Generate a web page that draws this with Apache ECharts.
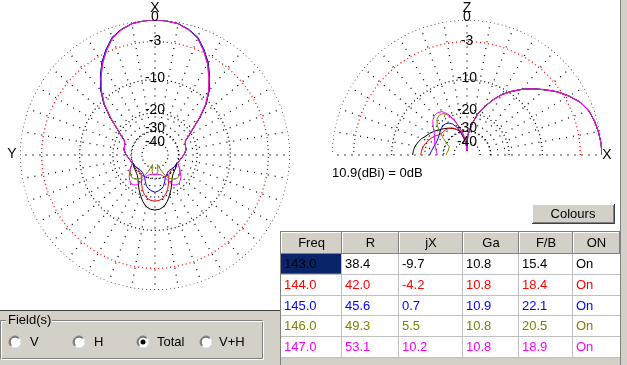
<!DOCTYPE html>
<html><head><meta charset="utf-8">
<script src="https://cdn.jsdelivr.net/npm/echarts@6/dist/echarts.min.js"></script>
<style>html,body{margin:0;padding:0;background:#fff;}#c{width:627px;height:365px;}</style>
</head><body><div id="c"></div>
<script>
// ---------------- DATA ----------------
const seriesNames = ['143.0', '144.0', '145.0', '146.0', '147.0'];
const seriesColors = ['#000000', '#ff0000', '#0000ff', '#808000', '#ff00ff'];

// Horizontal plane (left plot): angle in degrees from X (top), dB relative to 10.9 dBi
const anglesH = [0,5,10,15,20,25,30,35,40,45,50,55,60,65,70,75,80,85,90,95,100,105,110,
  120,130,135,140,145,150,155,160,165,170,175,180,
  185,190,195,200,205,210,215,220,225,230,240,
  250,255,260,265,270,275,280,285,290,295,300,305,310,315,320,325,330,335,340,345,350,355,360];
const h143 = [0,-0.05,-0.2,-0.65,-1.3,-2.6,-4.1,-6.0,-8.1,-10.7,-14.3,-18.2,-21.2,-23.8,-24.5,-24.9,-25.0,-25.7,-26.6,-27.6,-28.4,-29.2,-30.0,
  -29.5,-28.8,-28.3,-27.5,-26.0,-24.0,-21.8,-19.8,-17.8,-16.3,-15.6,-15.4,
  -15.6,-16.3,-17.8,-19.8,-21.8,-24.0,-26.0,-27.5,-28.3,-28.8,-29.5,
  -30.0,-29.2,-28.4,-27.6,-26.6,-25.7,-25.0,-24.9,-24.5,-23.8,-21.2,-18.2,-14.3,-10.7,-8.1,-6.0,-4.1,-2.6,-1.3,-0.65,-0.2,-0.05,0];
const h144 = [0,-0.05,-0.22,-0.68,-1.35,-2.7,-4.2,-6.1,-8.2,-10.8,-14.4,-18.3,-21.3,-23.9,-24.6,-24.9,-25.0,-25.7,-26.6,-27.6,-28.4,-29.2,-30.0,
  -30.5,-31.0,-31.0,-30.5,-29.5,-27.5,-24.8,-22.3,-20.5,-19.2,-18.6,-18.4,
  -18.6,-19.2,-20.5,-22.3,-24.8,-27.5,-29.5,-30.5,-31.0,-31.0,-30.5,
  -30.0,-29.2,-28.4,-27.6,-26.6,-25.7,-25.0,-24.9,-24.6,-23.9,-21.3,-18.3,-14.4,-10.8,-8.2,-6.1,-4.2,-2.7,-1.35,-0.68,-0.22,-0.05,0];
const h145 = [0,-0.05,-0.2,-0.65,-1.3,-2.6,-4.1,-6.0,-8.1,-10.7,-14.3,-18.2,-21.2,-23.8,-24.5,-24.9,-25.0,-25.7,-26.6,-27.6,-28.4,-29.2,-30.0,
  -30.5,-31.5,-32.0,-32.0,-31.5,-30.5,-29.3,-26.8,-24.4,-23.3,-22.6,-22.1,
  -22.6,-23.3,-24.4,-26.8,-29.3,-30.5,-31.5,-32.0,-32.0,-31.5,-30.5,
  -30.0,-29.2,-28.4,-27.6,-26.6,-25.7,-25.0,-24.9,-24.5,-23.8,-21.2,-18.2,-14.3,-10.7,-8.1,-6.0,-4.1,-2.6,-1.3,-0.65,-0.2,-0.05,0];
const h146 = [0,-0.05,-0.22,-0.7,-1.4,-2.75,-4.3,-6.2,-8.3,-10.9,-14.5,-18.3,-21.3,-23.9,-24.6,-24.9,-25.0,-25.7,-26.6,-27.6,-28.4,-29.0,-29.5,
  -26.6,-24.8,-24.6,-25.1,-26.2,-27.8,-32.0,-38.0,-45.0,-36.0,-33.0,-32.0,
  -33.0,-36.0,-45.0,-38.0,-32.0,-27.8,-26.2,-25.1,-24.6,-24.8,-26.6,
  -29.5,-29.0,-28.4,-27.6,-26.6,-25.7,-25.0,-24.9,-24.6,-23.9,-21.3,-18.3,-14.5,-10.9,-8.3,-6.2,-4.3,-2.75,-1.4,-0.7,-0.22,-0.05,0];
const h147 = [0,-0.05,-0.22,-0.7,-1.4,-2.75,-4.3,-6.2,-8.3,-10.9,-14.5,-18.3,-21.3,-23.9,-24.6,-24.9,-25.0,-25.7,-26.6,-27.6,-28.4,-29.0,-29.5,
  -26.5,-23.8,-22.8,-22.1,-22.4,-23.5,-28.5,-31.5,-32.5,-33.0,-33.3,-33.4,
  -33.3,-33.0,-32.5,-31.5,-28.5,-23.5,-22.4,-22.1,-22.8,-23.8,-26.5,
  -29.5,-29.0,-28.4,-27.6,-26.6,-25.7,-25.0,-24.9,-24.6,-23.9,-21.3,-18.3,-14.5,-10.9,-8.3,-6.2,-4.3,-2.75,-1.4,-0.7,-0.22,-0.05,0];

// Vertical plane (right plot): elevation angle in degrees from X (right) towards Z (top)
const anglesV = [0,5,10,15,20,25,30,35,40,45,50,55,60,65,70,75,80,85,88,90,
  92,95,100,105,110,115,120,125,130,135,140,145,150,155,160,165,170,175,180];
const v143 = [0,-0.05,-0.2,-0.4,-0.7,-1.35,-2.35,-3.5,-4.9,-6.3,-7.8,-9.5,-11.3,-13.8,-16.6,-19.6,-24.3,-29.8,-33.5,-60,
  -48,-44,-36,-30,-28,-26.5,-25.4,-24.3,-23.4,-22.5,-21.5,-20.5,-19.6,-18.8,-17.7,-16.9,-16.2,-15.8,-15.6];
const v144 = [0,-0.05,-0.2,-0.4,-0.7,-1.35,-2.35,-3.5,-4.9,-6.3,-7.8,-9.5,-11.3,-13.8,-16.6,-19.6,-24.3,-29.8,-33.5,-60,
  -48,-44,-36,-31,-28,-26.2,-25.2,-24.5,-24.2,-24.1,-23.9,-23.2,-22.0,-21.0,-20.2,-19.5,-18.9,-18.6,-18.4];
const v145 = [0,-0.05,-0.2,-0.4,-0.68,-1.3,-2.3,-3.45,-4.85,-6.25,-7.75,-9.45,-11.25,-13.7,-16.5,-19.5,-24.2,-29.8,-33.5,-60,
  -48,-42,-35,-30,-26,-23.5,-22.3,-21.8,-21.8,-22.3,-23.0,-23.6,-24.0,-24.1,-24.0,-23.6,-23.2,-22.6,-22.1];
const v146 = [0,-0.05,-0.2,-0.4,-0.7,-1.35,-2.35,-3.5,-4.9,-6.3,-7.8,-9.5,-11.3,-13.8,-16.6,-19.6,-24.3,-29.8,-33.5,-60,
  -45,-40,-33,-27,-22.5,-19.3,-17.8,-17.6,-18.2,-20.0,-23.0,-26.5,-30,-33,-34,-33.5,-33,-32.5,-32];
const v147 = [0,-0.05,-0.2,-0.4,-0.7,-1.35,-2.35,-3.5,-4.9,-6.3,-7.8,-9.5,-11.3,-13.8,-16.6,-19.6,-24.3,-29.8,-33.5,-60,
  -45,-38,-32,-26.5,-22,-18.8,-17.0,-16.5,-16.7,-17.6,-19.2,-20.8,-22.0,-22.8,-23.5,-24.2,-25,-25.5,-26];

// Scale rings (dB) and their labels
const ringDb = [0, -3, -10, -20, -30, -40];
const ringLabels = ['0', '-3', '-10', '-20', '-30', '-40'];
const gainText = '10.9(dBi) = 0dB';

// Table
const tableHeaders = ['Freq', 'R', 'jX', 'Ga', 'F/B', 'ON'];
const colFreq = ['143.0', '144.0', '145.0', '146.0', '147.0'];
const colR = ['38.4', '42.0', '45.6', '49.3', '53.1'];
const colJX = ['-9.7', '-4.2', '0.7', '5.5', '10.2'];
const colGa = ['10.8', '10.8', '10.9', '10.8', '10.8'];
const colFB = ['15.4', '18.4', '22.1', '20.5', '18.9'];
const colOn = ['On', 'On', 'On', 'On', 'On'];
const fieldOptions = ['V', 'H', 'Total', 'V+H'];
const fieldChecked = 2;

// ---------------- CHART ----------------
// ARRL log scale: each 2 dB = factor 0.89 in radius
function arrl(dB) { return Math.pow(0.89, -dB / 2); }

const chart = echarts.init(document.getElementById('c'), null, {renderer: 'canvas'});
const FONT = '"Liberation Sans", Arial, sans-serif';
const series = [];

function ringSeries(pi, dB, a0, a1, color) {
  const d = [];
  for (let a = a0; a <= a1; a += 1) d.push([arrl(dB), a]);
  return {type: 'line', coordinateSystem: 'polar', polarIndex: pi, data: d, symbol: 'none', silent: true,
    animation: false, z: 1, lineStyle: {color: color, width: 1.3, type: [1, 3]}};
}
function spokeSeries(pi, angs) {
  const d = [];
  angs.forEach(a => { d.push([arrl(-30), a]); d.push([1, a]); d.push('-'); });
  return {type: 'line', coordinateSystem: 'polar', polarIndex: pi, data: d, symbol: 'none', silent: true,
    animation: false, z: 1, connectNulls: false, lineStyle: {color: '#000', width: 1.3, type: [1, 6]}};
}
const spokesL = [], spokesR = [];
for (let a = 0; a < 360; a += 10) spokesL.push(a);
for (let a = 0; a <= 180; a += 10) spokesR.push(a);
series.push(spokeSeries(0, spokesL));
series.push(spokeSeries(1, spokesR));
ringDb.forEach(db => {
  const col = db === -3 ? '#ff0000' : '#000000';
  series.push(ringSeries(0, db, 0, 360, col));
  series.push(ringSeries(1, db, 0, 180, col));
});

const hData = [h143, h144, h145, h146, h147];
const vData = [v143, v144, v145, v146, v147];
hData.forEach((arr, i) => {
  series.push({type: 'line', name: seriesNames[i], coordinateSystem: 'polar', polarIndex: 0,
    data: arr.map((v, k) => [arrl(v), anglesH[k]]), symbol: 'none', animation: false, z: 3 + i,
    lineStyle: {color: seriesColors[i], width: 1}});
});
vData.forEach((arr, i) => {
  series.push({type: 'line', name: seriesNames[i], coordinateSystem: 'polar', polarIndex: 1,
    data: arr.map((v, k) => [arrl(v), anglesV[k]]), symbol: 'none', animation: false, z: 3 + i,
    lineStyle: {color: seriesColors[i], width: 1}});
});

// ---------------- GRAPHIC (labels, table, controls) ----------------
const g = [];
function rect(x, y, w, h, fill, z) { g.push({type: 'rect', z: z || 10, silent: true, shape: {x: x, y: y, width: w, height: h}, style: {fill: fill}}); }
function hline(x1, x2, y, c, z) { g.push({type: 'line', z: z || 11, silent: true, shape: {x1: x1, y1: y + 0.5, x2: x2, y2: y + 0.5}, style: {stroke: c, lineWidth: 1}}); }
function vline(x, y1, y2, c, z) { g.push({type: 'line', z: z || 11, silent: true, shape: {x1: x + 0.5, y1: y1, x2: x + 0.5, y2: y2}, style: {stroke: c, lineWidth: 1}}); }
function text(t, x, y, opts) {
  opts = opts || {};
  g.push({type: 'text', z: opts.z || 12, silent: true, x: x, y: y,
    style: {text: t, font: (opts.size || 13) + 'px ' + FONT, fill: opts.color || '#000',
      textAlign: opts.align || 'left', align: opts.align || 'left', textVerticalAlign: 'middle', verticalAlign: 'middle'}});
}

// plot axis labels
const ringLabelY = [17, 41, 78, 110, 128, 142];
ringLabels.forEach((t, i) => {
  text(t, 155, ringLabelY[i], {size: 14, align: 'center'});
  text(t, 467, ringLabelY[i], {size: 14, align: 'center'});
});
text('X', 155, 8, {size: 14, align: 'center'});
text('Y', 12, 154, {size: 14, align: 'center'});
text('Z', 467, 8, {size: 14, align: 'center'});
text('X', 607, 155, {size: 14, align: 'center'});
text(gainText, 332, 173, {size: 13});

// right gray strip
rect(621, 0, 6, 365, '#d4d0c8');
vline(620, 0, 365, '#808080');

// Colours button
rect(532, 204, 83, 20, '#d4d0c8');
hline(532, 615, 204, '#ffffff'); vline(532, 204, 224, '#ffffff');
hline(532, 615, 223, '#404040'); vline(614, 204, 224, '#404040');
hline(533, 614, 222, '#808080'); vline(613, 205, 223, '#808080');
text('Colours', 573, 214, {size: 13, align: 'center'});

// bottom-left panel with Field(s) group
rect(0, 311, 280, 54, '#d4d0c8');
hline(0, 280, 310, '#404040');
g.push({type: 'rect', z: 11, silent: true, shape: {x: 0.5, y: 320.5, width: 262, height: 38}, style: {fill: 'none', stroke: '#808080', lineWidth: 1}});
g.push({type: 'rect', z: 11, silent: true, shape: {x: 1.5, y: 321.5, width: 262, height: 38}, style: {fill: 'none', stroke: '#ffffff', lineWidth: 1}});
rect(6, 314, 46, 12, '#d4d0c8', 12);
text('Field(s)', 8, 320, {size: 13, z: 13});
const radioX = [15, 79, 143, 206];
const radioLabelX = [30, 94, 157, 219];
fieldOptions.forEach((t, i) => {
  const cx = radioX[i], cy = 342;
  g.push({type: 'circle', z: 12, silent: true, shape: {cx: cx, cy: cy, r: 6}, style: {fill: '#ffffff', stroke: '#808080', lineWidth: 1}});
  g.push({type: 'arc', z: 13, silent: true, shape: {cx: cx, cy: cy, r: 6, startAngle: -Math.PI / 4, endAngle: 3 * Math.PI / 4}, style: {fill: 'none', stroke: '#ffffff', lineWidth: 1}});
  g.push({type: 'arc', z: 13, silent: true, shape: {cx: cx, cy: cy, r: 5, startAngle: 3 * Math.PI / 4, endAngle: 7 * Math.PI / 4}, style: {fill: 'none', stroke: '#404040', lineWidth: 1}});
  if (i === fieldChecked) g.push({type: 'circle', z: 14, silent: true, shape: {cx: cx, cy: cy, r: 2.5}, style: {fill: '#000000'}});
  text(t, radioLabelX[i], cy, {size: 13});
});

// Table
const colX = [281, 342, 399, 463, 519, 573, 620];
const headY = 232, headH = 22, rowH = 20.8;
rect(280, 231, 341, 134, '#d4d0c8');
vline(280, 231, 365, '#808080');
hline(280, 621, 231, '#808080');
const columns = [colFreq, colR, colJX, colGa, colFB, colOn];
tableHeaders.forEach((h, c) => {
  const x0 = colX[c], x1 = colX[c + 1];
  rect(x0, headY, x1 - x0, headH, '#d4d0c8', 11);
  hline(x0, x1, headY, '#ffffff', 12); vline(x0, headY, headY + headH, '#ffffff', 12);
  vline(x1 - 1, headY, headY + headH, '#808080', 12); hline(x0, x1, headY + headH - 1, '#808080', 12);
  text(h, (x0 + x1) / 2, headY + headH / 2, {size: 13, align: 'center', z: 13});
});
const rowsTop = headY + headH;
rect(colX[0], rowsTop, colX[6] - colX[0], rowH * 5, '#ffffff', 11);
for (let r = 0; r < 5; r++) {
  const y0 = rowsTop + r * rowH;
  if (r === 0) rect(colX[0], y0, colX[1] - colX[0] - 1, rowH - 1, '#0a246a', 12);
  hline(colX[0], colX[6], Math.round(y0 + rowH) - 1, '#c0c0c0', 12);
  columns.forEach((col, c) => {
    text(col[r], colX[c] + 3, y0 + rowH / 2, {size: 13, color: seriesColors[r], z: 13});
  });
}
for (let c = 1; c < 6; c++) vline(colX[c] - 1, rowsTop, rowsTop + rowH * 5, '#c0c0c0', 12);

chart.setOption({
  animation: false,
  backgroundColor: '#ffffff',
  polar: [{center: [155, 155], radius: 135}, {center: [467, 155], radius: 135}],
  angleAxis: [
    {polarIndex: 0, type: 'value', min: 0, max: 360, startAngle: 90, clockwise: true, show: false},
    {polarIndex: 1, type: 'value', min: 0, max: 360, startAngle: 0, clockwise: false, show: false}
  ],
  radiusAxis: [
    {polarIndex: 0, type: 'value', min: 0, max: 1, show: false},
    {polarIndex: 1, type: 'value', min: 0, max: 1, show: false}
  ],
  series: series,
  graphic: {elements: g}
});
</script></body></html>
